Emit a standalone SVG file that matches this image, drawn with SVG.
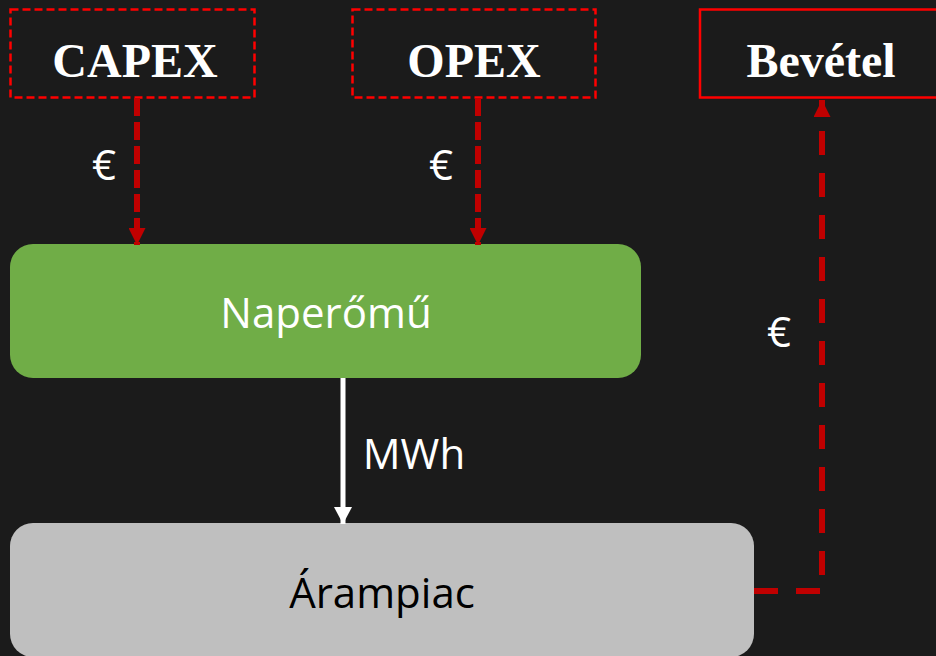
<svg xmlns="http://www.w3.org/2000/svg" width="936" height="656" viewBox="0 0 936 656">
<style>
.bg{fill:#1b1b1b}
.dbox{fill:none;stroke:#ff0000;stroke-width:2.5;stroke-dasharray:8 4}
.sbox{fill:none;stroke:#ff0000;stroke-width:2.5}
.title{font-family:"Liberation Serif","Times New Roman",serif;font-weight:bold;font-size:48px;fill:#ffffff;text-anchor:middle}
.lbl{font-family:"Open Sans","Noto Sans",sans-serif;font-size:42px;text-anchor:middle}
.red{stroke:#c00000;stroke-width:6;fill:none}
</style>
<defs>
<marker id="ar" markerUnits="userSpaceOnUse" markerWidth="18" markerHeight="17" refX="18" refY="9" orient="auto" viewBox="0 0 18 18">
<path d="M0,0 L18,9 L0,18 Z" fill="#c00000"/>
</marker>
<marker id="aw" markerUnits="userSpaceOnUse" markerWidth="17" markerHeight="18" refX="17" refY="9" orient="auto" viewBox="0 0 17 18">
<path d="M0,0 L17,9 L0,18 Z" fill="#ffffff"/>
</marker>
</defs>
<rect class="bg" x="0" y="0" width="936" height="656"/>
<g id="capex">
<rect class="dbox" x="10.5" y="9.5" width="244" height="88"/>
<text class="title" x="135" y="77">CAPEX</text>
</g>
<g id="opex">
<rect class="dbox" x="352.5" y="9.5" width="243" height="88"/>
<text class="title" x="474" y="77">OPEX</text>
</g>
<g id="bevetel">
<rect class="sbox" x="700" y="9.5" width="250" height="88"/>
<text class="title" x="821" y="77">Bevétel</text>
</g>
<g id="naperomu">
<rect x="10" y="244" width="631" height="134" rx="23" fill="#70ad47"/>
<text class="lbl" x="326" y="328" fill="#ffffff">Naperőmű</text>
</g>
<g id="arampiac">
<rect x="10" y="523" width="744" height="134" rx="23" fill="#bfbfbf"/>
<text class="lbl" x="382" y="608" fill="#000000">Árampiac</text>
</g>
<g id="connectors">
<line class="red" x1="137" y1="98" x2="137" y2="245" stroke-dasharray="18 6" marker-end="url(#ar)"/>
<line class="red" x1="478" y1="98" x2="478" y2="245" stroke-dasharray="18 6" marker-end="url(#ar)"/>
<polyline class="red" points="754,591 822,591 822,100" stroke-dasharray="24 18" marker-end="url(#ar)"/>
<line x1="343" y1="378" x2="343" y2="524" stroke="#ffffff" stroke-width="5" marker-end="url(#aw)"/>
<text class="lbl" x="104" y="180" fill="#ffffff">€</text>
<text class="lbl" x="441" y="180" fill="#ffffff">€</text>
<text class="lbl" x="779" y="347" fill="#ffffff">€</text>
<text class="lbl" x="414" y="469" fill="#ffffff">MWh</text>
</g>
</svg>
